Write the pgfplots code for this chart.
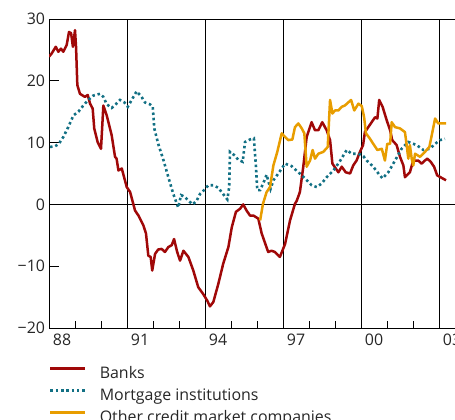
\documentclass[border=0pt]{standalone}
\usepackage{fontspec}
\setmainfont{Open Sans}
\usepackage{pgfplots}
\pgfplotsset{compat=1.18}
\definecolor{banks}{RGB}{160,8,8}
\definecolor{mortg}{RGB}{18,112,132}
\definecolor{other}{RGB}{232,157,0}
\begin{document}
\begin{tikzpicture}
\useasboundingbox (0,0) rectangle (455bp,420bp);
\begin{axis}[
  at={(49bp,92bp)}, anchor=south west,
  scale only axis, width=416bp, height=309bp,
  xmin=1988, xmax=2004, ymin=-20, ymax=30,
  axis line style={black, line width=0.8bp},
  xtick={1988.5,1991.5,1994.5,1997.5,2000.5,2003.5},
  xticklabels={88,91,94,97,00,03},
  minor xtick={1989,1990,...,2003},
  xtick pos=bottom,
  ytick={-20,-10,0,10,20,30},
  yticklabels={−20,−10,0,10,20,30},
  ytick pos=both,
  tick align=inside,
  major tick length=10bp,
  minor tick length=7bp,
  major x tick style={draw=none},
  minor x tick style={black, line width=0.8bp},
  major y tick style={black, line width=0.8bp},
  extra x ticks={1991,1994,1997,2000,2003},
  extra x tick labels={},
  extra x tick style={grid=major, major grid style={black, line width=0.8bp}},
  extra y ticks={0},
  extra y tick labels={},
  extra y tick style={grid=major, major grid style={black, line width=0.8bp}},
  tick label style={font=\fontsize{16}{19}\selectfont, text=black!85},
  yticklabel style={xshift=-0.5bp},
  xticklabel style={yshift=-2bp},
  legend style={at={(axis description cs:0,0)}, anchor=north west,
    xshift=0bp, yshift=-38.5bp, draw=none, fill=none, inner sep=0pt,
    row sep=7bp, column sep=13bp,
    font=\fontsize{16}{19}\selectfont, text=black!85,
    nodes={inner sep=0pt, text height=11.5bp, text depth=3.5bp},
    cells={anchor=west}},
  legend image code/.code={\draw[#1] (0bp,5.8bp) -- (35bp,5.8bp);},
  legend cell align=left,
]
\addplot[banks, line width=2.5bp, line join=round] coordinates {
(1988.00,23.9)(1988.10,24.4)(1988.26,25.5)(1988.36,24.7)(1988.46,25.2)(1988.55,24.7)
(1988.68,25.8)(1988.77,27.9)(1988.85,27.7)(1988.92,25.5)(1989.00,28.2)(1989.04,25.5)
(1989.09,19.3)(1989.19,17.9)(1989.38,17.4)(1989.49,17.7)(1989.58,16.3)(1989.68,15.5)
(1989.74,12.3)(1989.87,10.1)(1990.00,9.0)(1990.05,12.8)(1990.09,16.0)(1990.22,14.4)
(1990.41,11.2)(1990.54,7.7)(1990.60,7.4)(1990.67,5.5)(1990.80,5.8)(1990.99,2.8)
(1991.12,2.0)(1991.24,0.1)(1991.31,-1.0)(1991.44,-1.8)(1991.63,-3.4)(1991.73,-4.7)
(1991.82,-8.3)(1991.91,-8.5)(1991.97,-10.7)(1992.08,-8.0)(1992.20,-7.3)(1992.33,-7.2)
(1992.46,-7.7)(1992.59,-6.9)(1992.72,-6.6)(1992.81,-5.6)(1992.93,-7.7)(1993.04,-9.1)
(1993.17,-7.5)(1993.36,-8.5)(1993.55,-10.7)(1993.74,-13.4)(1993.93,-14.5)(1994.09,-15.6)
(1994.19,-16.5)(1994.32,-15.8)(1994.51,-12.9)(1994.70,-9.6)(1994.90,-6.9)(1995.03,-3.7)
(1995.19,-1.2)(1995.35,-0.7)(1995.47,0.0)(1995.60,-1.0)(1995.73,-1.8)(1995.86,-1.8)
(1996.05,-2.3)(1996.18,-4.7)(1996.43,-7.7)(1996.56,-7.5)(1996.69,-7.7)(1996.88,-8.5)
(1997.08,-6.4)(1997.27,-2.6)(1997.46,0.1)(1997.53,0.6)(1997.65,2.0)(1997.78,6.1)
(1997.91,10.9)(1998.10,13.3)(1998.23,12.0)(1998.36,12.0)(1998.51,13.3)(1998.68,12.0)
(1998.81,10.4)(1998.90,6.6)(1999.13,5.2)(1999.26,6.1)(1999.41,5.2)(1999.58,5.0)
(1999.70,6.3)(1999.83,7.1)(1999.96,8.5)(2000.08,9.6)(2000.15,11.7)(2000.41,13.3)
(2000.54,14.1)(2000.63,13.9)(2000.70,16.9)(2000.83,15.8)(2000.99,13.6)(2001.12,12.0)
(2001.20,10.4)(2001.37,9.6)(2001.50,7.7)(2001.63,6.3)(2001.69,4.4)(2001.88,5.2)
(2002.01,7.1)(2002.20,7.1)(2002.33,6.6)(2002.46,7.1)(2002.55,7.4)(2002.68,6.9)
(2002.81,6.1)(2002.93,4.7)(2003.10,4.3)(2003.27,3.9)
};
\addlegendentry{Banks}
\addplot[mortg, line width=2.6bp, dash pattern=on 2.5bp off 2.8bp] coordinates {
(1988.04,9.3)(1988.23,9.4)(1988.38,9.8)(1988.55,10.9)(1988.74,12.5)(1988.94,14.4)
(1989.13,15.0)(1989.32,16.0)(1989.51,16.9)(1989.70,17.6)(1989.96,17.9)(1990.09,17.4)
(1990.22,16.2)(1990.41,15.6)(1990.57,16.2)(1990.73,16.9)(1990.90,16.5)(1991.03,15.8)
(1991.18,16.9)(1991.37,18.3)(1991.56,17.4)(1991.69,16.5)(1991.88,16.2)(1991.99,15.8)
(1992.05,12.3)(1992.20,9.8)(1992.40,7.2)(1992.59,4.4)(1992.78,1.7)(1992.97,-0.5)
(1993.08,1.5)(1993.23,1.2)(1993.36,0.6)(1993.53,0.0)(1993.68,0.6)(1993.81,1.7)
(1993.96,2.3)(1994.13,3.1)(1994.32,3.1)(1994.51,2.7)(1994.73,1.5)(1994.86,0.8)
(1994.93,2.8)(1994.96,8.5)(1995.15,7.9)(1995.28,7.2)(1995.45,6.9)(1995.54,10.1)
(1995.73,10.5)(1995.88,10.7)(1995.96,6.1)(1996.01,2.3)(1996.12,2.3)(1996.24,3.4)
(1996.37,4.8)(1996.52,2.5)(1996.63,3.9)(1996.82,5.0)(1997.08,6.6)(1997.14,6.5)
(1997.33,6.2)(1997.59,5.2)(1997.85,4.2)(1998.10,3.1)(1998.30,2.8)(1998.49,3.4)
(1998.68,4.4)(1998.94,5.5)(1999.19,7.0)(1999.45,8.8)(1999.64,8.2)(1999.90,8.2)
(2000.09,7.8)(2000.22,7.1)(2000.47,6.1)(2000.67,5.0)(2000.83,4.2)(2001.05,5.2)
(2001.31,7.1)(2001.56,9.0)(2001.82,10.1)(2002.14,9.6)(2002.40,8.8)(2002.65,9.0)
(2002.85,9.8)(2003.04,10.4)(2003.23,10.6)
};
\addlegendentry{Mortgage institutions}
\addplot[other, line width=2.5bp, line join=round] coordinates {
(1996.12,-2.6)(1996.23,0.1)(1996.37,2.0)(1996.50,2.8)(1996.63,6.3)(1996.78,8.5)
(1996.95,11.5)(1997.08,10.9)(1997.20,10.4)(1997.36,10.5)(1997.46,12.5)(1997.59,13.1)
(1997.72,12.3)(1997.82,11.5)(1997.91,6.1)(1998.04,7.1)(1998.14,8.8)(1998.23,7.4)
(1998.36,8.2)(1998.55,8.5)(1998.72,9.3)(1998.81,16.9)(1998.90,14.7)(1999.00,15.2)
(1999.13,15.2)(1999.26,15.8)(1999.38,16.0)(1999.51,16.5)(1999.62,16.9)(1999.74,15.2)
(1999.90,16.3)(2000.03,15.9)(2000.12,14.1)(2000.19,11.5)(2000.35,10.6)(2000.47,9.8)
(2000.63,8.8)(2000.80,9.0)(2000.92,7.1)(2001.01,9.8)(2001.12,9.8)(2001.18,13.3)
(2001.31,12.5)(2001.50,12.3)(2001.69,11.7)(2001.75,9.8)(2001.82,7.4)(2001.88,9.6)
(2001.95,7.4)(2002.01,6.3)(2002.08,8.2)(2002.27,7.7)(2002.46,8.5)(2002.63,9.3)
(2002.85,13.9)(2002.97,13.1)(2003.27,13.1)
};
\addlegendentry{Other credit market companies}
\end{axis}
\end{tikzpicture}
\end{document}
